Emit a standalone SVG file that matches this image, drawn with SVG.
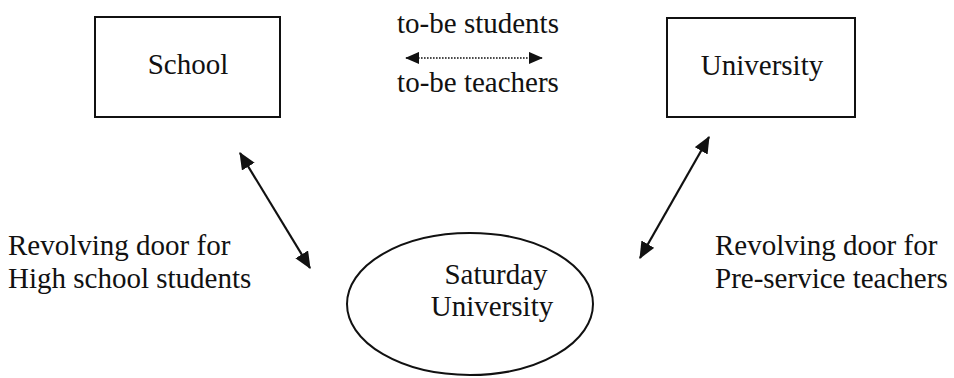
<svg xmlns="http://www.w3.org/2000/svg" width="954" height="378" viewBox="0 0 954 378">
<defs>
<style>
.t{font-family:"Liberation Serif","Times New Roman","DejaVu Serif",serif;font-size:29px;fill:#111}
.box{fill:#fff;stroke:#111;stroke-width:2}
.c{stroke:#111;stroke-width:2.2;fill:none}
.dot{stroke:#111;stroke-width:1.6;stroke-dasharray:1.6 1.4;fill:none}
</style>
<marker id="ah" viewBox="0 0 16 14" refX="15" refY="7" markerWidth="17" markerHeight="15" orient="auto-start-reverse" markerUnits="userSpaceOnUse">
<path d="M0,0 L16,7 L0,14 Z" fill="#111"/>
</marker>
<marker id="ah2" viewBox="0 0 16 14" refX="15" refY="7" markerWidth="14" markerHeight="13" orient="auto-start-reverse" markerUnits="userSpaceOnUse">
<path d="M0,0 L16,7 L0,14 Z" fill="#111"/>
</marker>
</defs>
<rect width="954" height="378" fill="#fff"/>
<g id="school">
<rect class="box" x="95" y="17" width="185" height="100"/>
<text class="t" x="188" y="74" text-anchor="middle">School</text>
</g>
<g id="university">
<rect class="box" x="667" y="18" width="188" height="99"/>
<text class="t" x="762" y="75" text-anchor="middle">University</text>
</g>
<g id="saturday">
<ellipse class="box" cx="470" cy="304" rx="123" ry="71"/>
<text class="t" x="496" y="284" text-anchor="middle">Saturday</text>
<text class="t" x="492" y="316" text-anchor="middle">University</text>
</g>
<g id="labels">
<text class="t" x="478" y="33" text-anchor="middle">to-be students</text>
<text class="t" x="478" y="92" text-anchor="middle">to-be teachers</text>
<text class="t" x="8" y="255">Revolving door for</text>
<text class="t" x="8" y="288">High school students</text>
<text class="t" x="715" y="255">Revolving door for</text>
<text class="t" x="715" y="288">Pre-service teachers</text>
</g>
<g id="connectors">
<line class="dot" x1="406" y1="58" x2="542" y2="58" marker-start="url(#ah2)" marker-end="url(#ah2)"/>
<line class="c" x1="240" y1="153" x2="310" y2="268" marker-start="url(#ah)" marker-end="url(#ah)"/>
<line class="c" x1="709" y1="137" x2="640" y2="258" marker-start="url(#ah)" marker-end="url(#ah)"/>
</g>
</svg>
